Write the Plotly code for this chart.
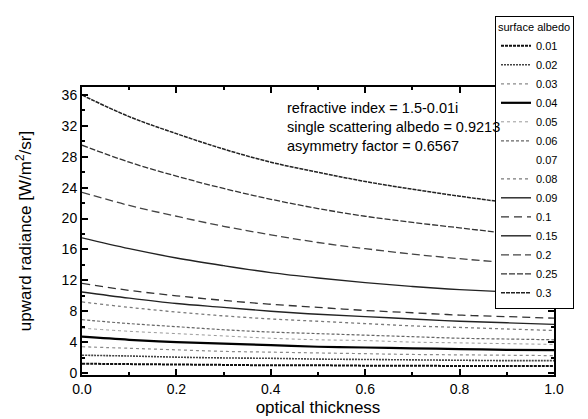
import plotly.graph_objects as go

# optical thickness grid
tau = [0.0, 0.1, 0.2, 0.3, 0.4, 0.5, 0.6, 0.7, 0.8, 0.9, 1.0]

albedo_labels = ["0.01", "0.02", "0.03", "0.04", "0.05", "0.06", "0.07",
                 "0.08", "0.09", "0.1", "0.15", "0.2", "0.25", "0.3"]

# upward radiance [W/m2/sr], one list per surface albedo
rad_001 = [1.2, 1.15, 1.1, 1.05, 1.0, 1.0, 0.95, 0.95, 0.9, 0.9, 0.9]
rad_002 = [2.3, 2.2, 2.05, 1.95, 1.9, 1.8, 1.75, 1.7, 1.65, 1.6, 1.6]
rad_003 = [3.4, 3.2, 3.0, 2.8, 2.7, 2.6, 2.5, 2.4, 2.35, 2.3, 2.25]
rad_004 = [4.7, 4.3, 4.0, 3.8, 3.6, 3.4, 3.3, 3.2, 3.1, 3.0, 2.95]
rad_005 = [5.8, 5.4, 5.1, 4.8, 4.5, 4.3, 4.2, 4.0, 3.9, 3.8, 3.7]
rad_006 = [6.9, 6.4, 6.0, 5.6, 5.3, 5.1, 4.9, 4.7, 4.5, 4.4, 4.3]
rad_007 = [8.0, 7.4, 6.9, 6.5, 6.1, 5.8, 5.6, 5.4, 5.2, 5.0, 4.9]
rad_008 = [9.2, 8.5, 7.9, 7.4, 7.0, 6.7, 6.4, 6.1, 5.9, 5.7, 5.5]
rad_009 = [10.5, 9.7, 9.0, 8.5, 8.0, 7.6, 7.3, 7.0, 6.7, 6.5, 6.3]
rad_010 = [11.6, 10.7, 10.0, 9.4, 8.9, 8.5, 8.1, 7.8, 7.5, 7.3, 7.1]
rad_015 = [17.5, 16.1, 14.9, 13.9, 13.0, 12.3, 11.7, 11.2, 10.8, 10.5, 10.2]
rad_020 = [23.4, 21.7, 20.3, 19.0, 17.9, 16.9, 16.1, 15.4, 14.8, 14.3, 13.9]
rad_025 = [29.5, 27.3, 25.5, 23.9, 22.5, 21.3, 20.3, 19.5, 18.8, 18.1, 17.6]
rad_030 = [36.0, 33.2, 31.0, 29.0, 27.3, 26.0, 24.8, 23.8, 22.9, 22.1, 21.5]

series = [rad_001, rad_002, rad_003, rad_004, rad_005, rad_006, rad_007,
          rad_008, rad_009, rad_010, rad_015, rad_020, rad_025, rad_030]

# (colour, dash, width) per curve, scanned-print look
styles = [
    ("#111111", "3px,1px", 2.0),
    ("#444444", "2px,1px", 1.6),
    ("#8a8a8a", "dot", 1.2),
    ("#000000", "solid", 2.2),
    ("#9a9a9a", "dot", 1.0),
    ("#666666", "3px,2px", 1.2),
    ("rgba(0,0,0,0)", "solid", 1.0),
    ("#7a7a7a", "dot", 1.3),
    ("#222222", "solid", 1.4),
    ("#333333", "8px,5px", 1.3),
    ("#222222", "solid", 1.4),
    ("#444444", "8px,4px", 1.3),
    ("#333333", "6px,2px", 1.3),
    ("#222222", "4px,1px", 1.5),
]

FONT = "Liberation Sans, Arial, sans-serif"

fig = go.Figure()
for lbl, ys, (col, dash, w) in zip(albedo_labels, series, styles):
    fig.add_trace(go.Scatter(
        x=tau, y=ys, name=lbl, mode="lines",
        line=dict(color=col, dash=dash, width=w, shape="spline"),
    ))

fig.add_annotation(
    x=0.43, y=0.962, xref="paper", yref="paper",
    xanchor="left", yanchor="top", align="left", showarrow=False,
    text="refractive index = 1.5-0.01i<br>single scattering albedo = 0.9213"
         "<br>asymmetry factor = 0.6567",
    font=dict(size=14.5, color="black", family=FONT),
)

axis_common = dict(
    showline=True, linecolor="black", linewidth=2, mirror="allticks",
    ticks="inside", ticklen=6, tickwidth=1.5, tickcolor="black",
    showgrid=False, zeroline=False,
    tickfont=dict(size=14, color="black", family=FONT),
)

# page body adds an 8px offset, so margins are set 8px smaller on left/top
fig.update_layout(
    width=588, height=419,
    paper_bgcolor="white", plot_bgcolor="white",
    margin=dict(l=74, r=42, t=79, b=52, autoexpand=False),
    font=dict(family=FONT, color="black"),
    xaxis=dict(
        range=[0, 1], dtick=0.2, tick0=0, tickformat=".1f",
        minor=dict(dtick=0.1, ticks="inside", ticklen=3, tickcolor="black"),
        title=dict(text="optical thickness", font=dict(size=17), standoff=5),
        **axis_common,
    ),
    yaxis=dict(
        range=[-0.26, 37.04], dtick=4, tick0=0,
        minor=dict(dtick=2, ticks="inside", ticklen=3, tickcolor="black"),
        title=dict(text="upward radiance [W/m<sup>2</sup>/sr]",
                   font=dict(size=17), standoff=26),
        **axis_common,
    ),
    showlegend=True,
    legend=dict(
        x=0.875, y=1.2465, xanchor="left", yanchor="top",
        maxheight=400, entrywidth=70,
        bgcolor="white", bordercolor="black", borderwidth=1,
        font=dict(size=11, color="black", family=FONT),
        title=dict(text="surface albedo", font=dict(size=11)),
        traceorder="normal",
    ),
)

fig.write_html("out.html")
